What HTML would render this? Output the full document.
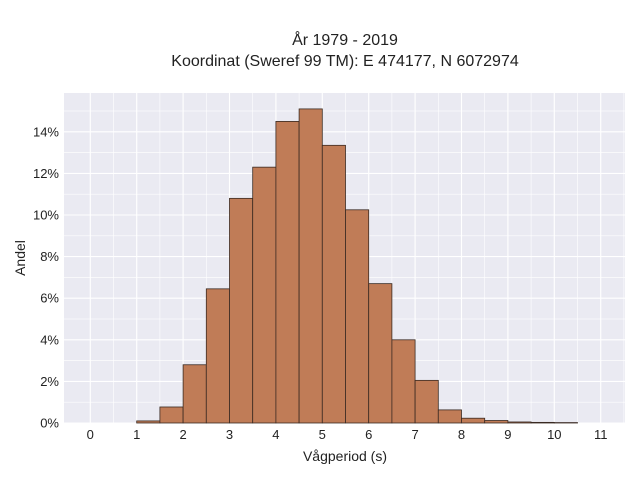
<!DOCTYPE html>
<html><head><meta charset="utf-8"><style>
body{margin:0;background:#fff;font-family:"Liberation Sans","DejaVu Sans",sans-serif}
svg text{font-family:"Liberation Sans","DejaVu Sans",sans-serif;fill:#222}
</style></head><body>
<svg id="chart" width="640" height="480">
<text x="345" y="45" text-anchor="middle" font-size="16">År 1979 - 2019</text>
<text x="345" y="66" text-anchor="middle" font-size="16">Koordinat (Sweref 99 TM): E 474177, N 6072974</text>
<rect x="64" y="93" width="561" height="330" fill="#eaeaf2"/>
<g id="grid"></g><g id="bars"></g><g id="xt"></g><g id="yt"></g>
<text x="345" y="461" text-anchor="middle" font-size="14">Vågperiod (s)</text>
<text x="25" y="258" text-anchor="middle" font-size="14" transform="rotate(-90 25 258)">Andel</text>
</svg>
<script>
const binStarts=[1,1.5,2,2.5,3,3.5,4,4.5,5,5.5,6,6.5,7,7.5,8,8.5,9,9.5,10];
const values=[0.1,0.77,2.8,6.45,10.8,12.3,14.5,15.1,13.35,10.25,6.7,4.0,2.05,0.63,0.23,0.12,0.05,0.03,0.02];
const xTicks=[0,1,2,3,4,5,6,7,8,9,10,11];
const yTicks=[0,2,4,6,8,10,12,14];
const binWidth=0.5;
const X=v=>90.3+v*46.4;
const Y=v=>423-v*20.8;
const NS="http://www.w3.org/2000/svg";
function mk(t,a,p){const e=document.createElementNS(NS,t);for(const k in a)e.setAttribute(k,a[k]);p.appendChild(e);return e;}
const grid=document.getElementById('grid');
for(let v=0;v<=11.5;v+=0.5){const l=mk('line',{x1:X(v),x2:X(v),y1:93,y2:423,stroke:'#fff','stroke-width':v%1?0.6:1.1},grid);

}
for(let v=0;v<=15;v+=1){const l=mk('line',{x1:64,x2:625,y1:Y(v),y2:Y(v),stroke:'#fff','stroke-width':v%2?0.6:1.1},grid);

}
const bars=document.getElementById('bars');
binStarts.forEach((b,i)=>{const r=mk('rect',{x:X(b),y:Y(values[i]),width:X(b+binWidth)-X(b),height:Y(0)-Y(values[i]),fill:'#c07c57',stroke:'#3a2a22','stroke-width':0.8},bars);

});
const xt=document.getElementById('xt');
xTicks.forEach(v=>{const t=mk('text',{x:X(v),y:439,'text-anchor':'middle','font-size':13},xt);t.textContent=v;

});
const yt=document.getElementById('yt');
yTicks.forEach(v=>{const t=mk('text',{x:59,y:Y(v)+4.5,'text-anchor':'end','font-size':13},yt);t.textContent=v+'%';

});
</script>
</body></html>
